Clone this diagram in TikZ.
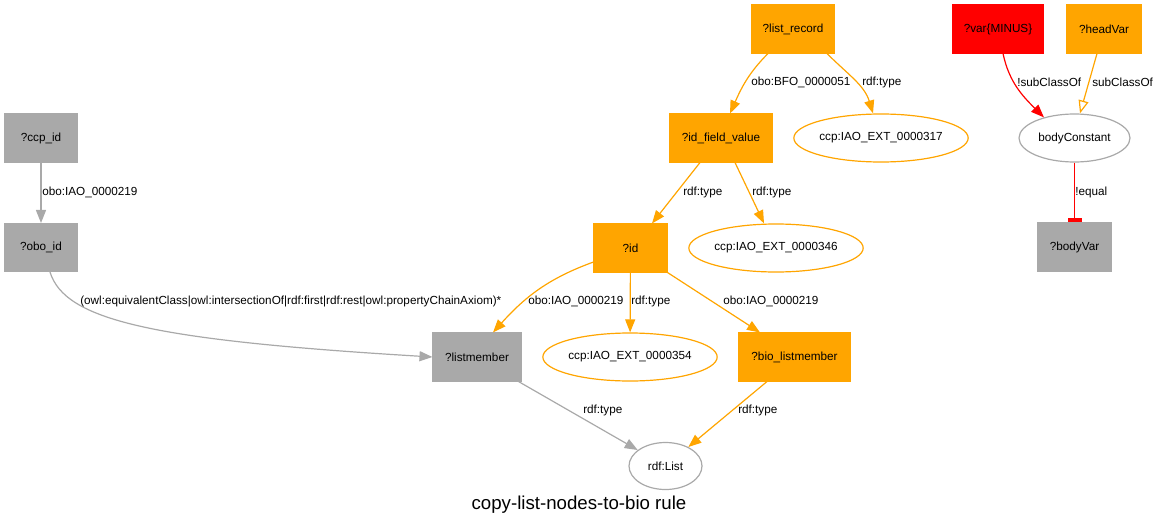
\documentclass[tikz,border=0pt]{standalone}
\usepackage{fontspec}
\setmainfont{Liberation Sans}
\usetikzlibrary{arrows.meta,shapes.geometric,calc}
\definecolor{gvorange}{HTML}{FFA500}
\definecolor{gvgray}{HTML}{A9A9A9}
\definecolor{gvred}{HTML}{FF0000}
\begin{document}
\begin{tikzpicture}[x=0.75pt,y=-0.75pt,
  every node/.style={font=\fontsize{8.8}{10}\selectfont, inner sep=0pt},
  box/.style={rectangle, minimum height=36pt, line width=0.8pt},
  obox/.style={box, fill=gvorange, draw=gvorange},
  gbox/.style={box, fill=gvgray, draw=gvgray},
  rbox/.style={box, fill=gvred, draw=gvred},
  oell/.style={ellipse, draw=gvorange, fill=white, minimum height=36pt, line width=0.9pt},
  gell/.style={ellipse, draw=gvgray, fill=white, minimum height=36pt, line width=0.9pt},
  arr/.style={line width=0.9pt, -{Triangle[length=9.75pt,width=7.5pt]}},
  oedge/.style={arr, draw=gvorange},
  gedge/.style={arr, draw=gvgray},
  redge/.style={arr, draw=gvred},
  lab/.style={anchor=west}
]
\useasboundingbox (0,0) rectangle (1159,528);
% nodes
\node[obox, minimum width=62.25pt] (lr) at (793,29) {?list\_record};
\node[obox, minimum width=77.25pt] (idf) at (721,138) {?id\_field\_value};
\node[oell, minimum width=129pt] (c317) at (881,138) {ccp:IAO\_EXT\_0000317};
\node[rbox, minimum width=68.25pt] (var) at (998,29) {?var\{MINUS\}};
\node[obox, minimum width=55.5pt] (hv) at (1104,29) {?headVar};
\node[gell, minimum width=83.25pt] (bc) at (1074.5,138) {bodyConstant};
\node[gbox, minimum width=54.75pt] (bv) at (1074.5,247) {?bodyVar};
\node[gbox, minimum width=54.75pt] (ccp) at (41,138) {?ccp\_id};
\node[gbox, minimum width=54.75pt] (obo) at (41,247.5) {?obo\_id};
\node[gbox, minimum width=66pt] (lm) at (477,357) {?listmember};
\node[obox, minimum width=54.75pt] (id) at (630.5,248) {?id};
\node[oell, minimum width=129pt] (c346) at (776,248) {ccp:IAO\_EXT\_0000346};
\node[oell, minimum width=128.25pt] (c354) at (630,357) {ccp:IAO\_EXT\_0000354};
\node[obox, minimum width=83.25pt] (blm) at (794.5,357) {?bio\_listmember};
\node[gell, minimum width=54.75pt, minimum height=35.25pt] (rl) at (665.5,466) {rdf:List};
\node[font=\fontsize{14}{16}\selectfont] (title) at (579,505) {copy-list-nodes-to-bio rule};
% edges
\draw[oedge] ($(lr.south)+(-25,0)$) to[out=225,in=66] ($(idf.north)+(9,0)$);
\draw[oedge] ($(lr.south)+(34,0)$) to[out=-45,in=107] ($(c317.north)+(-8,0)$);
\draw[oedge] ($(idf.south)+(-21,0)$) -- ($(id.north)+(21.5,0)$);
\draw[oedge] ($(idf.south)+(14,0)$) -- ($(c346.north)+(-12,0)$);
\draw[gedge] (ccp) -- (obo);
\draw[gedge] ($(obo.south)+(9,0)$) .. controls (65,320) and (150,340) .. (lm.west);
\draw[oedge] ($(id.west)+(0,14)$) to[out=200,in=48] ($(lm.north)+(16,0)$);
\draw[oedge] (id) -- (c354);
\draw[oedge] (id.south east) -- ($(blm.north)+(-34.5,0)$);
\draw[gedge] ($(lm.south east)+(-3,0)$) -- (rl);
\draw[oedge] ($(blm.south)+(-27.5,0)$) -- (rl);
\draw[redge] ($(var.south)+(5,0)$) to[out=282,in=135] (bc.146);
\draw[line width=0.9pt, draw=gvorange, -{Triangle[open,length=9.75pt,width=7.5pt]}] ($(hv.south)+(-7,0)$) -- ($(bc.north)+(5.5,0)$);
\draw[line width=0.9pt, draw=gvred, -{Rectangle[length=3pt,width=10.5pt]}] (bc) -- (bv);
% labels
\node[lab] (l1) at (751,82) {obo:BFO\_0000051};
\node[lab] (l2) at (862,82) {rdf:type};
\node[lab] (l3) at (683,192) {rdf:type};
\node[lab] (l4) at (752,192) {rdf:type};
\node[lab] (l5) at (42,192) {obo:IAO\_0000219};
\node[lab] (l6) at (80,301) {(owl:equivalentClass|owl:intersectionOf|rdf:first|rdf:rest|owl:propertyChainAxiom)*};
\node[lab] (l7) at (528,301) {obo:IAO\_0000219};
\node[lab] (l8) at (631,301) {rdf:type};
\node[lab] (l9) at (723,301) {obo:IAO\_0000219};
\node[lab] (l10) at (583,410) {rdf:type};
\node[lab] (l11) at (738,410) {rdf:type};
\node[lab] (l12) at (1017,82) {!subClassOf};
\node[lab] (l13) at (1092,82) {subClassOf};
\node[lab] (l14) at (1075,192) {!equal};
\end{tikzpicture}
\end{document}
